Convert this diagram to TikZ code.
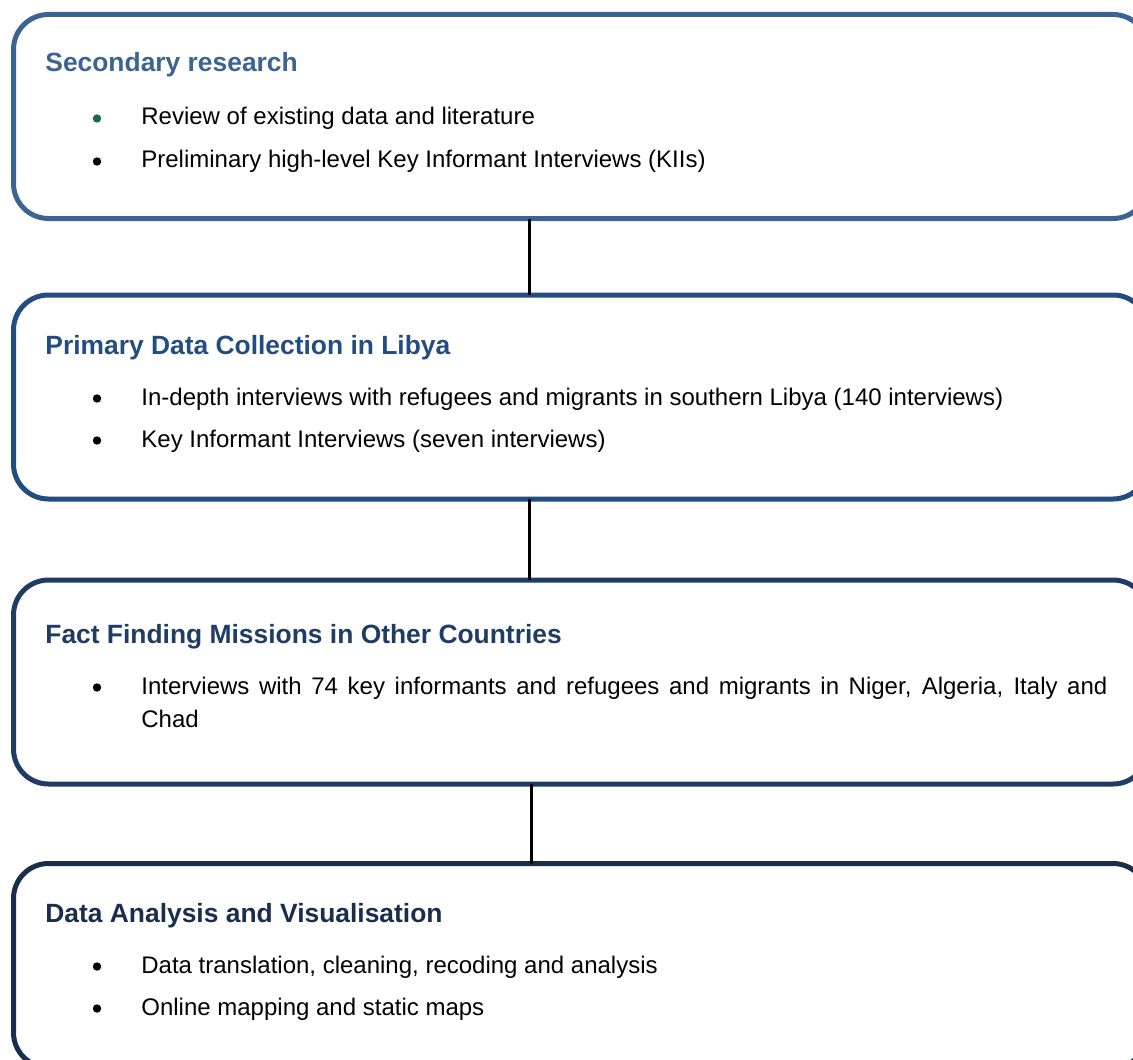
\documentclass[tikz,border=0pt]{standalone}
\usepackage{fontspec}
\setmainfont{Liberation Sans}

\definecolor{secblue}{RGB}{61,99,146}
\definecolor{primblue}{RGB}{35,77,128}
\definecolor{factblue}{RGB}{30,60,100}
\definecolor{anablue}{RGB}{25,46,77}
\definecolor{dotgreen}{RGB}{20,108,88}

\begin{document}
\begin{tikzpicture}[x=0.5pt,y=-0.5pt,
  stage/.style={draw=#1, line width=2.5pt, rounded corners=17.5pt, anchor=north west,
    minimum width=567.25pt, minimum height=102pt, inner sep=0pt, outer sep=0pt},
  heading/.style={text=#1, font=\bfseries\fontsize{13.2}{16}\selectfont, anchor=base west, inner sep=0pt},
  point/.style={font=\fontsize{12}{16.5}\selectfont, anchor=base west, inner sep=0pt},
  dot/.style={circle, fill=#1, minimum size=4.2pt, inner sep=0pt},
  dot/.default=black,
  link/.style={line width=1.25pt, black}]
\clip (0,0) rectangle (1133,1059);

% the four stages
\node[stage=secblue] (sec) at (13.5,14.5) {};
\node[stage=primblue] (prim) at (13.5,295) {};
\node[stage=factblue] (fact) at (13.5,580) {};
\node[stage=anablue] (ana) at (13.5,863.5) {};

% links between stages
\draw[link] ([xshift=-25.7pt]sec.south) -- ([xshift=-25.7pt]prim.north);
\draw[link] ([xshift=-25.7pt]prim.south) -- ([xshift=-25.7pt]fact.north);
\draw[link] ([xshift=-24.7pt]fact.south) -- ([xshift=-24.7pt]ana.north);

% secondary research
\node[heading=secblue] (sec-t) at (45,72) {Secondary research};
\node[dot=dotgreen] (sec-d1) at (97,118.5) {};
\node[point] (sec-p1) at (141,125) {Review of existing data and literature};
\node[dot] (sec-d2) at (97,161.5) {};
\node[point] (sec-p2) at (141,168) {Preliminary high-level Key Informant Interviews (KIIs)};

% primary data collection
\node[heading=primblue] (prim-t) at (45,354) {Primary Data Collection in Libya};
\node[dot] (prim-d1) at (97,398.5) {};
\node[point] (prim-p1) at (141,405) {In-depth interviews with refugees and migrants in southern Libya (140 interviews)};
\node[dot] (prim-d2) at (97,440.5) {};
\node[point] (prim-p2) at (141,447) {Key Informant Interviews (seven interviews)};

% fact finding missions
\node[heading=factblue] (fact-t) at (45,643) {Fact Finding Missions in Other Countries};
\node[dot] (fact-d1) at (97,687.5) {};
\node[point, text width=483pt, align=justify] (fact-p1) at (141,694)
  {Interviews with 74 key informants and refugees and migrants in Niger, Algeria, Italy and\linebreak Chad};

% data analysis
\node[heading=anablue] (ana-t) at (45,922) {Data Analysis and Visualisation};
\node[dot] (ana-d1) at (97,966.5) {};
\node[point] (ana-p1) at (141,973) {Data translation, cleaning, recoding and analysis};
\node[dot] (ana-d2) at (97,1008.5) {};
\node[point] (ana-p2) at (141,1015) {Online mapping and static maps};
\end{tikzpicture}
\end{document}
